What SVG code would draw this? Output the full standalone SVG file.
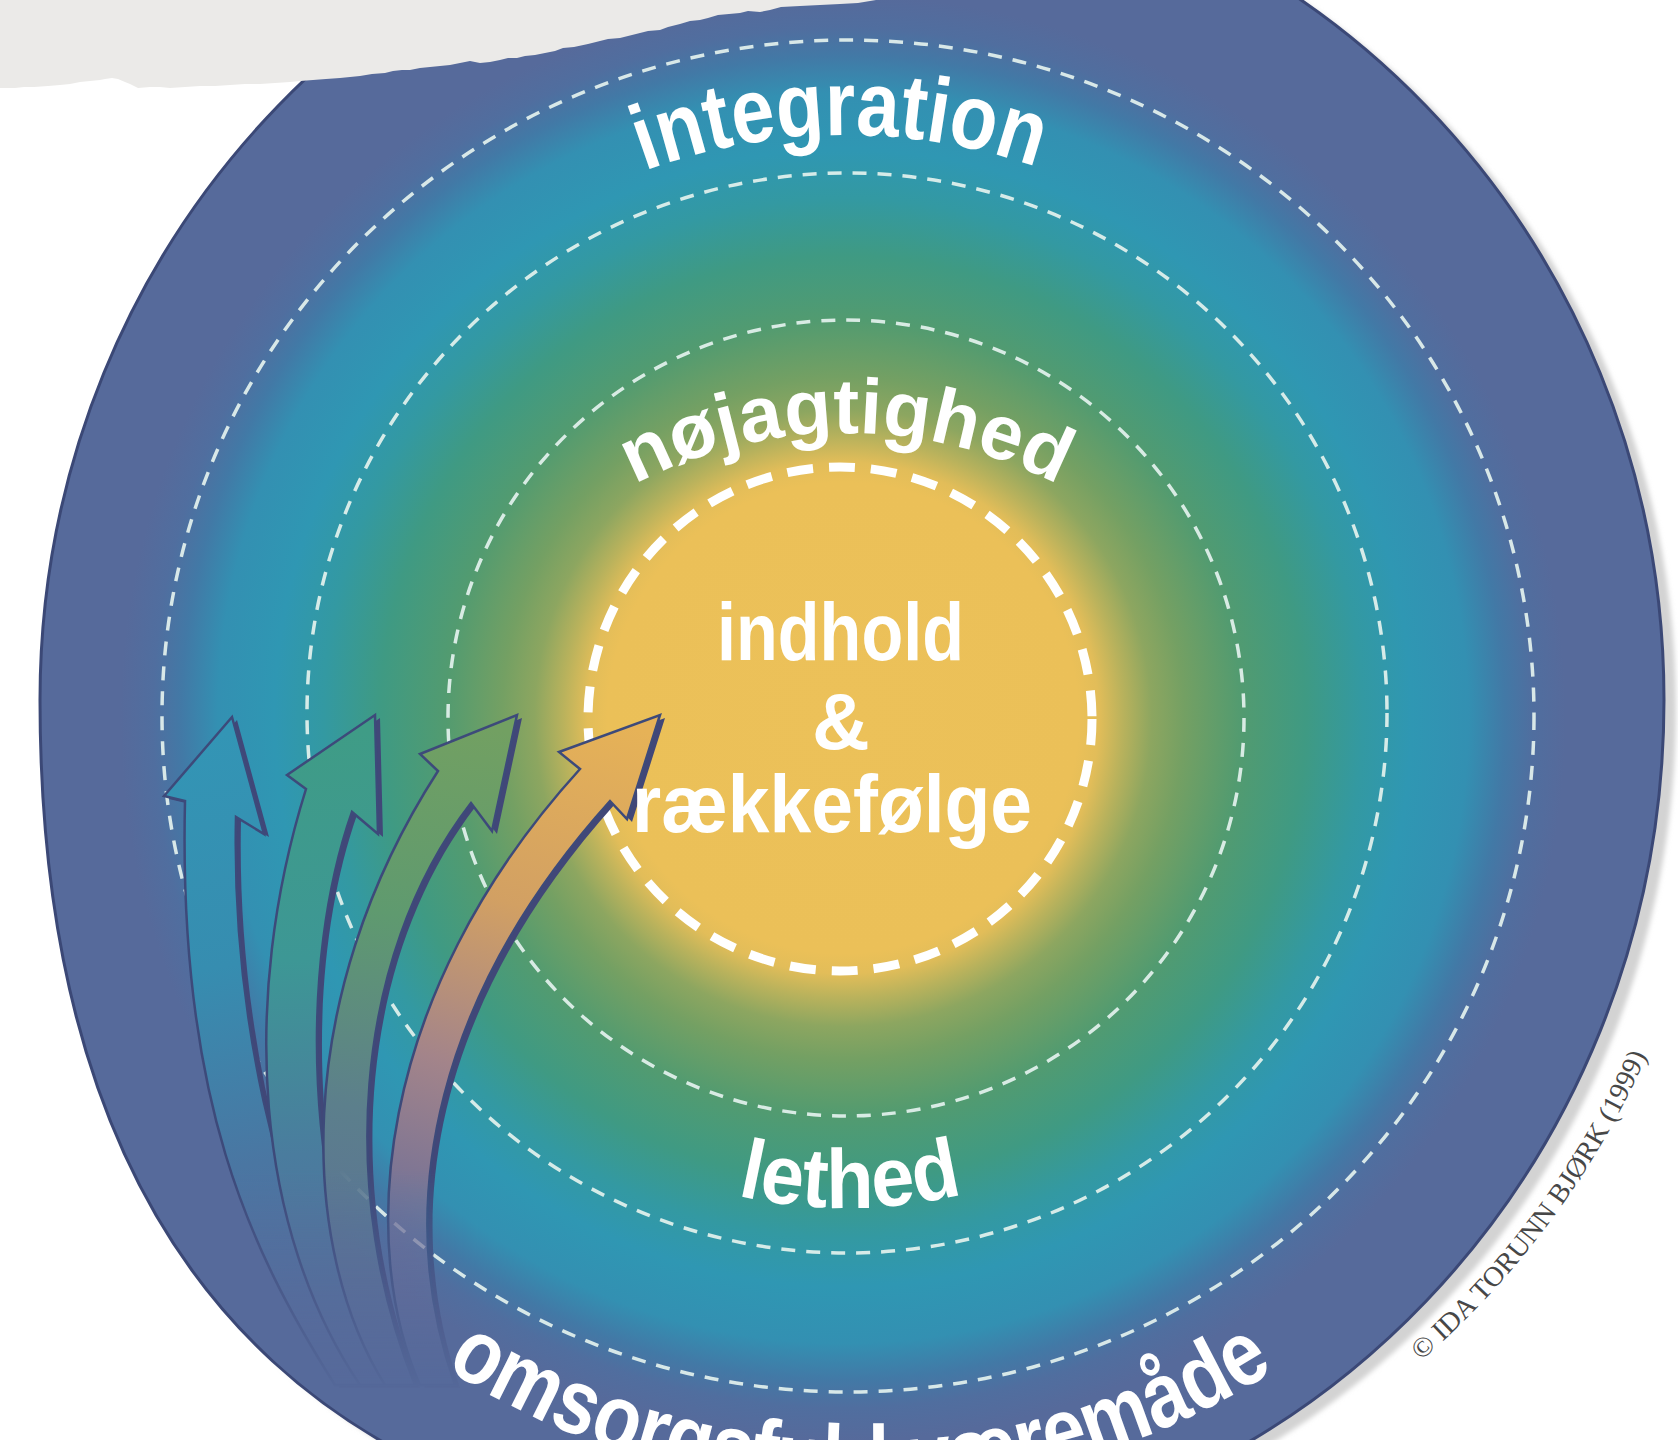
<svg xmlns="http://www.w3.org/2000/svg" width="1678" height="1440" viewBox="0 0 1678 1440">
<style>
.lbl{font-family:"Liberation Sans",Arial,sans-serif;font-weight:bold;fill:#ffffff}
.ring{fill:none;stroke:#e4f2ee;stroke-width:3.5;stroke-dasharray:14 11;opacity:0.92}
.core{fill:none;stroke:#ffffff;stroke-width:9;stroke-dasharray:26 16}
.arrow{stroke:#3d4a7a;stroke-width:2.5;stroke-linejoin:miter}
.shadow{fill:#414778}
.copy{font-family:"Liberation Serif","Times New Roman",serif;fill:#474747}
</style>
<defs>
<radialGradient id="disc" gradientUnits="userSpaceOnUse" cx="843" cy="718" r="812">
<stop offset="0" stop-color="#ECC159"/>
<stop offset="0.29" stop-color="#EBC058"/>
<stop offset="0.315" stop-color="#E2BD59"/>
<stop offset="0.345" stop-color="#B9B25C"/>
<stop offset="0.38" stop-color="#8DA660"/>
<stop offset="0.42" stop-color="#74A063"/>
<stop offset="0.49" stop-color="#529B70"/>
<stop offset="0.57" stop-color="#3F9A83"/>
<stop offset="0.64" stop-color="#3399A2"/>
<stop offset="0.70" stop-color="#2F97B3"/>
<stop offset="0.77" stop-color="#3390B2"/>
<stop offset="0.815" stop-color="#4279A6"/>
<stop offset="0.85" stop-color="#506E9F"/>
<stop offset="0.89" stop-color="#566A9B"/>
<stop offset="1" stop-color="#566A9B"/>
</radialGradient>
<linearGradient id="g4" gradientUnits="userSpaceOnUse" x1="640" y1="730" x2="430" y2="1380">
<stop offset="0" stop-color="#E6B257"/><stop offset="0.3" stop-color="#D2A063"/><stop offset="0.55" stop-color="#A3848A"/><stop offset="0.8" stop-color="#6E6F98"/><stop offset="1" stop-color="#5A6A9B"/>
</linearGradient>
<linearGradient id="g3" gradientUnits="userSpaceOnUse" x1="500" y1="730" x2="400" y2="1380">
<stop offset="0" stop-color="#72A062"/><stop offset="0.3" stop-color="#5F9A6F"/><stop offset="0.6" stop-color="#5C7F8C"/><stop offset="1" stop-color="#5A6A9B"/>
</linearGradient>
<linearGradient id="g2" gradientUnits="userSpaceOnUse" x1="360" y1="730" x2="380" y2="1380">
<stop offset="0" stop-color="#3F9C86"/><stop offset="0.35" stop-color="#3D9795"/><stop offset="0.65" stop-color="#4A7C9E"/><stop offset="1" stop-color="#5A6A9B"/>
</linearGradient>
<linearGradient id="g1" gradientUnits="userSpaceOnUse" x1="230" y1="730" x2="350" y2="1380">
<stop offset="0" stop-color="#3395B5"/><stop offset="0.35" stop-color="#368DB0"/><stop offset="0.65" stop-color="#4A76A2"/><stop offset="1" stop-color="#5A6A9B"/>
</linearGradient>
<linearGradient id="fadeGrad" gradientUnits="userSpaceOnUse" x1="0" y1="1170" x2="0" y2="1400">
<stop offset="0" stop-color="#ffffff"/><stop offset="1" stop-color="#000000"/>
</linearGradient>
<mask id="fade" maskUnits="userSpaceOnUse" x="0" y="0" width="1678" height="1440">
<rect x="0" y="0" width="1678" height="1440" fill="url(#fadeGrad)"/>
</mask>
<filter id="soft" x="-5%" y="-5%" width="110%" height="110%"><feGaussianBlur stdDeviation="2.5"/></filter>
<path id="discShape" d="M 852 -140 C 1300 -140 1664 236 1664 700 C 1664 1170 1300 1550 852 1550 C 390 1550 40 1330 40 700 C 40 236 404 -140 852 -140 Z"/>
<path id="pInt" d="M 263 718 A 583 583 0 0 1 1429 718"/>
<path id="pNoj" d="M 386 893 A 460 460 0 0 1 1306 893"/>
<path id="pLet" d="M 356 718 A 490 490 0 0 0 1336 718"/>
<path id="pOms" d="M 90 718 A 772 772 0 0 0 1634 718"/>
<path id="pCopy" d="M 1421 1361 A 870 870 0 0 0 1647 1055"/>
</defs>

<rect x="0" y="0" width="1678" height="1440" fill="#ffffff"/>

<g id="disc-base">
<use href="#discShape" transform="translate(12,8)" fill="#d3d3d3" filter="url(#soft)"/>
<use href="#discShape" fill="url(#disc)" stroke="#3b4876" stroke-width="3"/>
</g>

<g id="rings">
<ellipse id="ring-4" class="ring" cx="848" cy="716" rx="686" ry="676"/>
<circle id="ring-3" class="ring" cx="847" cy="713" r="540"/>
<circle id="ring-2" class="ring" cx="846" cy="718" r="398"/>
<circle id="ring-core" class="core" cx="840" cy="719" r="252"/>
</g>

<g id="connectors" mask="url(#fade)">
<g id="arrow-1">
<path class="shadow" transform="translate(5,3)" d="M 335 1385 C 250 1250 178 1100 185 801 L 164 796 L 232 717 L 264 834 L 236 817 C 232 1000 270 1200 365 1385 Z"/>
<path class="arrow" fill="url(#g1)" d="M 335 1385 C 250 1250 178 1100 185 801 L 164 796 L 232 717 L 264 834 L 236 817 C 232 1000 270 1200 365 1385 Z"/>
</g>
<g id="arrow-2">
<path class="shadow" transform="translate(5,3)" d="M 360 1385 C 255 1230 240 1000 306 789 L 287 775 L 375 715 L 378 834 L 352 812 C 300 960 300 1200 392 1385 Z"/>
<path class="arrow" fill="url(#g2)" d="M 360 1385 C 255 1230 240 1000 306 789 L 287 775 L 375 715 L 378 834 L 352 812 C 300 960 300 1200 392 1385 Z"/>
</g>
<g id="arrow-3">
<path class="shadow" transform="translate(5,3)" d="M 385 1385 C 300 1250 290 1000 438 771 L 420 754 L 517 715 L 492 831 L 471 803 C 350 960 340 1200 415 1385 Z"/>
<path class="arrow" fill="url(#g3)" d="M 385 1385 C 300 1250 290 1000 438 771 L 420 754 L 517 715 L 492 831 L 471 803 C 350 960 340 1200 415 1385 Z"/>
</g>
<g id="arrow-4">
<path class="shadow" transform="translate(5,3)" d="M 420 1385 C 360 1250 370 1000 580 769 L 559 752 L 660 715 L 627 819 L 610 801 C 440 990 390 1200 455 1385 Z"/>
<path class="arrow" fill="url(#g4)" d="M 420 1385 C 360 1250 370 1000 580 769 L 559 752 L 660 715 L 627 819 L 610 801 C 440 990 390 1200 455 1385 Z"/>
</g>
</g>

<g id="node-core">
<text class="lbl" x="717" y="660" font-size="82" textLength="247" lengthAdjust="spacingAndGlyphs">indhold</text>
<text class="lbl" x="841" y="749" font-size="80" text-anchor="middle">&amp;</text>
<text class="lbl" x="632" y="832" font-size="82" textLength="400" lengthAdjust="spacingAndGlyphs">rækkefølge</text>
</g>
<g id="node-nojagtighed">
<text class="lbl" font-size="78"><textPath href="#pNoj" startOffset="502.6" textLength="440" lengthAdjust="spacingAndGlyphs">nøjagtighed</textPath></text>
</g>
<g id="node-integration">
<text class="lbl" font-size="92"><textPath href="#pInt" startOffset="710" textLength="400" lengthAdjust="spacingAndGlyphs">integration</textPath></text>
</g>
<g id="node-lethed">
<text class="lbl" font-size="84"><textPath href="#pLet" startOffset="659.7" textLength="228" lengthAdjust="spacingAndGlyphs">lethed</textPath></text>
</g>
<g id="node-omsorg">
<text class="lbl" font-size="92"><textPath href="#pOms" startOffset="772" textLength="876" lengthAdjust="spacingAndGlyphs">omsorgsfuld væremåde</textPath></text>
</g>

<g id="torn-paper">
<path fill="#ebeae8" d="M0 0 L876 0 L858 3 L840 4 L820 5 L800 6 L781 7 L770 10 L760 12 L748 11 L740 13 L718 15 L708 18 L700 20 L690 21 L680 24 L668 27 L660 30 L648 31 L640 33 L628 36 L620 38 L608 39 L600 41 L588 44 L574 47 L563 48 L555 51 L545 53 L535 55 L525 56 L517 58 L508 58 L500 60 L490 62 L480 63 L470 61 L460 63 L450 65 L440 66 L430 67 L420 68 L410 70 L402 70 L393 71 L385 73 L372 74 L360 76 L350 77 L340 78 L326 79 L313 80 L300 81 L290 82 L275 83 L260 84 L245 84 L230 85 L215 86 L200 86 L185 87 L170 88 L160 87 L150 87 L138 88 L130 84 L125 82 L118 79 L112 78 L105 79 L100 80 L90 81 L80 82 L70 84 L60 85 L48 86 L34 87 L24 87 L15 88 L0 88 Z"/>
</g>

<g id="copyright">
<text class="copy" font-size="28"><textPath href="#pCopy" textLength="383" lengthAdjust="spacingAndGlyphs">© IDA TORUNN BJØRK (1999)</textPath></text>
</g>
</svg>
